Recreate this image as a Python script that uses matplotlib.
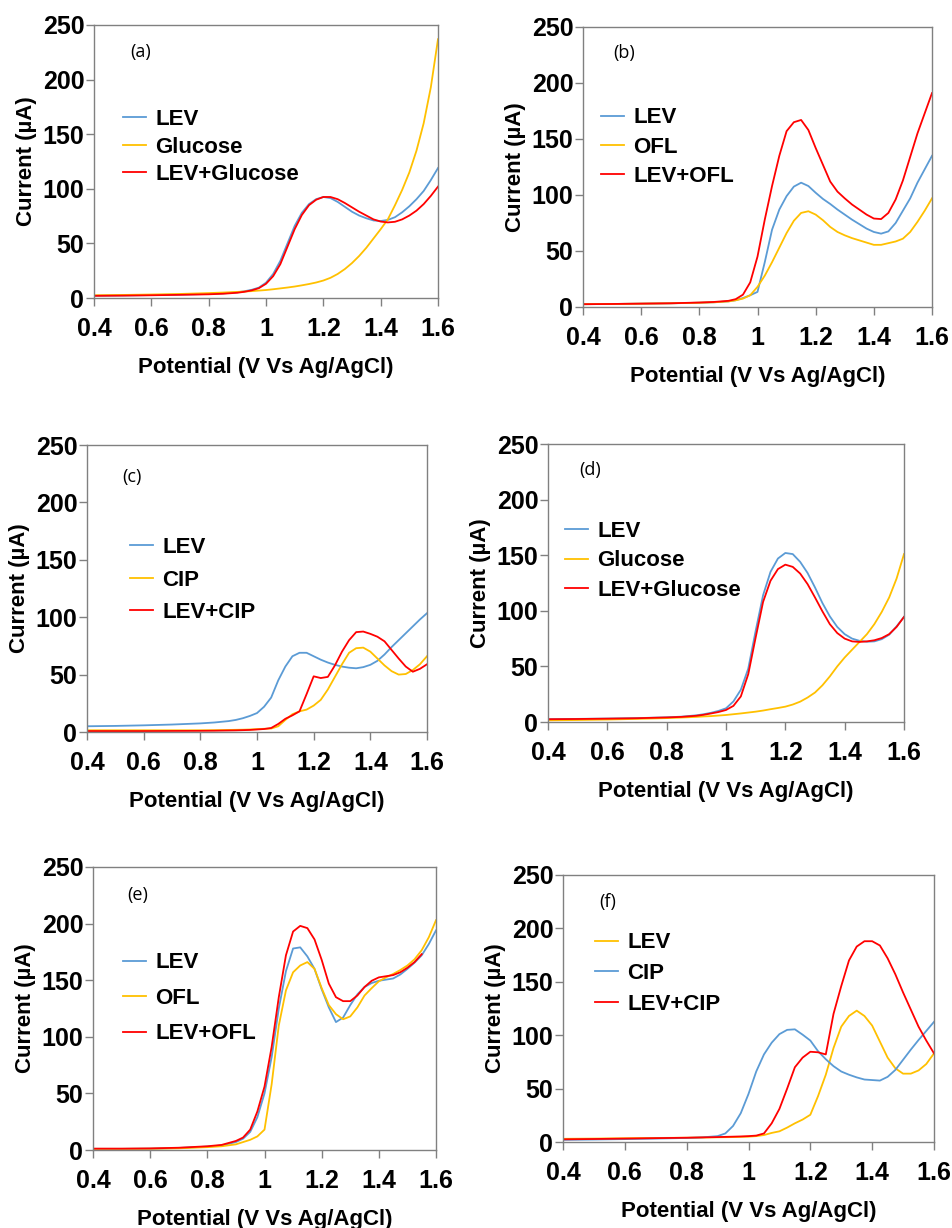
import matplotlib
matplotlib.use("Agg")
import matplotlib.pyplot as plt

# Potential grid (V vs Ag/AgCl)
POT = [0.4, 0.5, 0.6, 0.7, 0.8, 0.85, 0.9, 0.925, 0.95, 0.975, 1.0, 1.025, 1.05, 1.075,
       1.1, 1.125, 1.15, 1.175, 1.2, 1.225, 1.25, 1.275, 1.3, 1.325, 1.35, 1.375, 1.4,
       1.425, 1.45, 1.475, 1.5, 1.525, 1.55, 1.575, 1.6]

# (a)
A_LEV = [2.0, 2.3, 2.7, 3.1, 3.7, 4.2, 5.2, 6.2, 7.5, 9.5, 14, 22, 34, 50, 66, 78, 86, 90.5, 92.5,
         91.5, 88, 83.5, 79, 75.5, 73, 71, 70.5, 71.5, 74, 78.5, 84, 90.5, 98, 108, 119]
A_GLU = [2.5, 2.8, 3.2, 3.7, 4.5, 5, 5.6, 5.9, 6.3, 6.8, 7.3, 8, 8.8, 9.6, 10.5, 11.6, 12.8, 14.2, 16,
         18.5, 22, 26.5, 32, 38.5, 46, 54.5, 63, 72, 85, 99, 115, 135, 160, 193, 237]
A_MIX = [2.0, 2.2, 2.5, 2.9, 3.4, 3.9, 4.8, 5.7, 7, 9, 13, 20, 31, 47, 63, 76, 85, 90, 92.5,
         92.5, 90.5, 87, 83, 79, 75.5, 72, 70, 69.2, 69.8, 72, 75.5, 80, 86, 93.5, 102]

# (b)
B_LEV = [2.5, 2.7, 3, 3.3, 3.8, 4.2, 5, 6, 8, 10.5, 13.5, 40, 69, 87, 99, 107.5, 111, 108, 102,
         96.5, 92, 87, 82.5, 78, 74, 70, 67, 65.5, 67.5, 75, 86, 97, 111, 123, 135]
B_OFL = [2.5, 2.7, 3, 3.3, 3.8, 4.2, 5, 6, 7.5, 10.5, 18, 28, 40, 53, 66, 77, 84, 85.5, 82.5,
         77.5, 71.5, 67, 64, 61.5, 59.5, 57.5, 55.5, 55.5, 57, 58.5, 61, 67, 76, 86, 97]
B_MIX = [2.5, 2.7, 3, 3.3, 4, 4.5, 5.5, 7, 11, 22, 45, 78, 108, 135, 157, 165, 167, 158, 142,
         127, 112, 103, 97, 91.5, 87, 82.5, 79, 78.5, 84, 96, 113, 134, 155, 173, 191]

# (c)
C_LEV = [5, 5.3, 5.8, 6.5, 7.5, 8.3, 9.5, 10.5, 12, 14, 16.5, 22, 30, 45, 57, 66, 69, 69, 66,
         63, 60.5, 58.5, 57, 56, 55.5, 56.5, 58.5, 62, 67.5, 74, 80, 86, 92, 98, 103.5]
C_CIP = [1.5, 1.5, 1.5, 1.5, 1.5, 1.6, 1.8, 1.9, 2, 2.2, 2.5, 2.8, 3, 5, 10.5, 15.5, 18, 19.5, 23,
         28, 37, 48, 59, 69, 73, 73.5, 70, 64, 58, 53, 50, 50.5, 54, 59, 66]
C_MIX = [0.8, 0.8, 0.8, 0.9, 1, 1.1, 1.3, 1.4, 1.6, 1.8, 2.2, 2.6, 3.5, 7, 11.5, 14.5, 18, 33, 48.5,
         47, 48, 58, 70, 80, 87, 87.5, 85.5, 83, 79, 71.5, 64, 57, 52.5, 55, 59]

# (d)
D_LEV = [2.5, 2.8, 3.1, 3.5, 4.2, 4.8, 6, 7, 8.3, 10, 12.3, 18.5, 29, 48, 82, 114, 135, 147, 152,
         151, 144, 134, 121, 107, 95, 85.5, 79, 75, 73, 72.2, 72.5, 74.5, 78.5, 86, 94.5]
D_GLU = [1.5, 1.8, 2.2, 2.8, 3.5, 4, 4.6, 5, 5.3, 5.8, 6.3, 7, 7.7, 8.5, 9.3, 10.3, 11.5, 12.6, 13.8,
         15.7, 18.3, 22, 26.5, 33, 41, 50, 58, 65, 72, 79, 88, 99, 112, 129, 151]
D_MIX = [2.5, 2.7, 3, 3.4, 4.1, 4.6, 5.6, 6.5, 7.7, 9, 10.8, 14.5, 23, 43, 76, 108, 127, 137.5, 141.5,
         139.5, 133.5, 124, 112, 99.5, 88, 80, 75, 72.5, 72, 72.5, 73.5, 75.5, 79, 85.5, 94.5]

# (e)
E_LEV = [1, 1, 1.2, 1.8, 3, 4, 7, 10, 16, 29, 50, 82, 125, 158, 178, 179, 171, 160, 142,
         126, 113, 117, 128, 137.5, 144, 147.5, 149.5, 150.5, 151.5, 155, 160, 165.5, 172, 182, 194]
E_OFL = [1, 1, 1.1, 1.5, 2.5, 3.3, 5, 7, 9, 12, 18, 58, 110, 141, 157, 163, 166, 160, 143,
         128, 120, 115.5, 118, 126, 136.5, 143, 149, 152.5, 155.5, 159, 163, 168.5, 176.5, 188, 203]
E_MIX = [1.2, 1.2, 1.4, 2, 3.3, 4.5, 8, 11, 18, 34, 56, 91, 135, 172, 193, 198, 196, 186, 168,
         147, 135, 131.5, 131.5, 136.5, 144, 149.5, 152.5, 153.5, 154.5, 157, 161, 166, 173]

# (f)
F_LEV = [3, 3.2, 3.5, 3.8, 4, 4.2, 4.4, 4.5, 4.6, 4.8, 5, 5.5, 6.5, 8.5, 10, 13.5, 17.5, 21, 25.5,
         43, 63, 88, 108, 118, 123, 118, 109, 94, 79, 69, 64, 64, 67, 73, 83]
F_CIP = [2, 2.3, 2.7, 3.2, 3.8, 4.3, 5.5, 8, 15, 27, 45, 66, 82, 93, 101, 105, 105.5, 100.5, 95,
         85, 77.5, 71, 66, 63, 60.5, 58.5, 58, 57.5, 61, 67.5, 77, 86.5, 95.5, 104, 112.5]
F_MIX = [2.5, 2.8, 3.2, 3.6, 4, 4.3, 4.6, 4.8, 5, 5.2, 5.5, 6, 8, 17.5, 31, 50, 70, 79, 84.5,
         84, 82, 120, 146, 170, 183, 188, 188, 184, 172, 157, 140, 124, 108, 95, 83]

X_TICKS = [0.4, 0.6, 0.8, 1.0, 1.2, 1.4, 1.6]
X_TICKLABELS = ["0.4", "0.6", "0.8", "1", "1.2", "1.4", "1.6"]
Y_TICKS = [0, 50, 100, 150, 200, 250]
Y_TICKLABELS = ["0", "50", "100", "150", "200", "250"]

BLUE = "#5B9BD5"
YELLOW = "#FFC000"
RED = "#FF0000"
GRAY = "#808080"
FONT = "Liberation Sans"

W, H = 952, 1228

def rect(l, t, r, b):
    return [l / W, 1 - b / H, (r - l) / W, (b - t) / H]

panels = [
    dict(box=rect(94, 25, 438, 298), tag="(a)", tagpos=(0.105, 0.90),
         series=[("LEV", A_LEV, BLUE), ("Glucose", A_GLU, YELLOW), ("LEV+Glucose", A_MIX, RED)],
         leg=(0.084, 0.692), ls=0.29),
    dict(box=rect(583, 27, 932, 307), tag="(b)", tagpos=(0.086, 0.907),
         series=[("LEV", B_LEV, BLUE), ("OFL", B_OFL, YELLOW), ("LEV+OFL", B_MIX, RED)],
         leg=(0.052, 0.713), ls=0.38),
    dict(box=rect(87, 445, 427, 732), tag="(c)", tagpos=(0.103, 0.889),
         series=[("LEV", C_LEV, BLUE), ("CIP", C_CIP, YELLOW), ("LEV+CIP", C_MIX, RED)],
         leg=(0.126, 0.679), ls=0.52),
    dict(box=rect(548, 444, 904, 722), tag="(d)", tagpos=(0.087, 0.906),
         series=[("LEV", D_LEV, BLUE), ("Glucose", D_GLU, YELLOW), ("LEV+Glucose", D_MIX, RED)],
         leg=(0.048, 0.723), ls=0.38),
    dict(box=rect(93, 867, 436, 1150), tag="(e)", tagpos=(0.099, 0.901),
         series=[("LEV", E_LEV, BLUE), ("OFL", E_OFL, YELLOW), ("LEV+OFL", E_MIX, RED)],
         leg=(0.087, 0.698), ls=0.65),
    dict(box=rect(563, 875, 934, 1142), tag="(f)", tagpos=(0.097, 0.899),
         series=[("LEV", F_LEV, YELLOW), ("CIP", F_CIP, BLUE), ("LEV+CIP", F_MIX, RED)],
         leg=(0.086, 0.785), ls=0.43),
]

fig = plt.figure(figsize=(W / 100, H / 100), dpi=100)

for p in panels:
    ax = fig.add_axes(p["box"])
    for name, vals, col in p["series"]:
        ax.plot(POT[:len(vals)], vals, color=col, lw=1.3, label=name)
    ax.set_xlim(0.4, 1.6)
    ax.set_ylim(0, 250)
    ax.set_xticks(X_TICKS)
    ax.set_xticklabels(X_TICKLABELS, fontsize=18, fontweight="bold", family=FONT)
    ax.set_yticks(Y_TICKS)
    ax.set_yticklabels(Y_TICKLABELS, fontsize=18, fontweight="bold", family=FONT)
    for s in ax.spines.values():
        s.set_color(GRAY)
        s.set_linewidth(1.0)
    ax.tick_params(axis="both", direction="out", length=6, width=1.0, color=GRAY)
    ax.tick_params(axis="x", pad=8)
    ax.tick_params(axis="y", pad=1)
    ax.set_xlabel("Potential (V Vs Ag/AgCl)", fontsize=16, fontweight="bold", family=FONT, labelpad=11)
    ax.set_ylabel("Current (µA)", fontsize=16, fontweight="bold", family=FONT, labelpad=4)
    ax.text(p["tagpos"][0], p["tagpos"][1], p["tag"], transform=ax.transAxes,
            fontsize=13, family="Open Sans", ha="left", va="center")
    ax.legend(loc="upper left", bbox_to_anchor=p["leg"], frameon=False,
              prop=dict(family=FONT, weight="bold", size=16),
              handlelength=1.05, handletextpad=0.4, labelspacing=p["ls"],
              borderpad=0, borderaxespad=0)

fig.savefig("out.png", dpi=100)
